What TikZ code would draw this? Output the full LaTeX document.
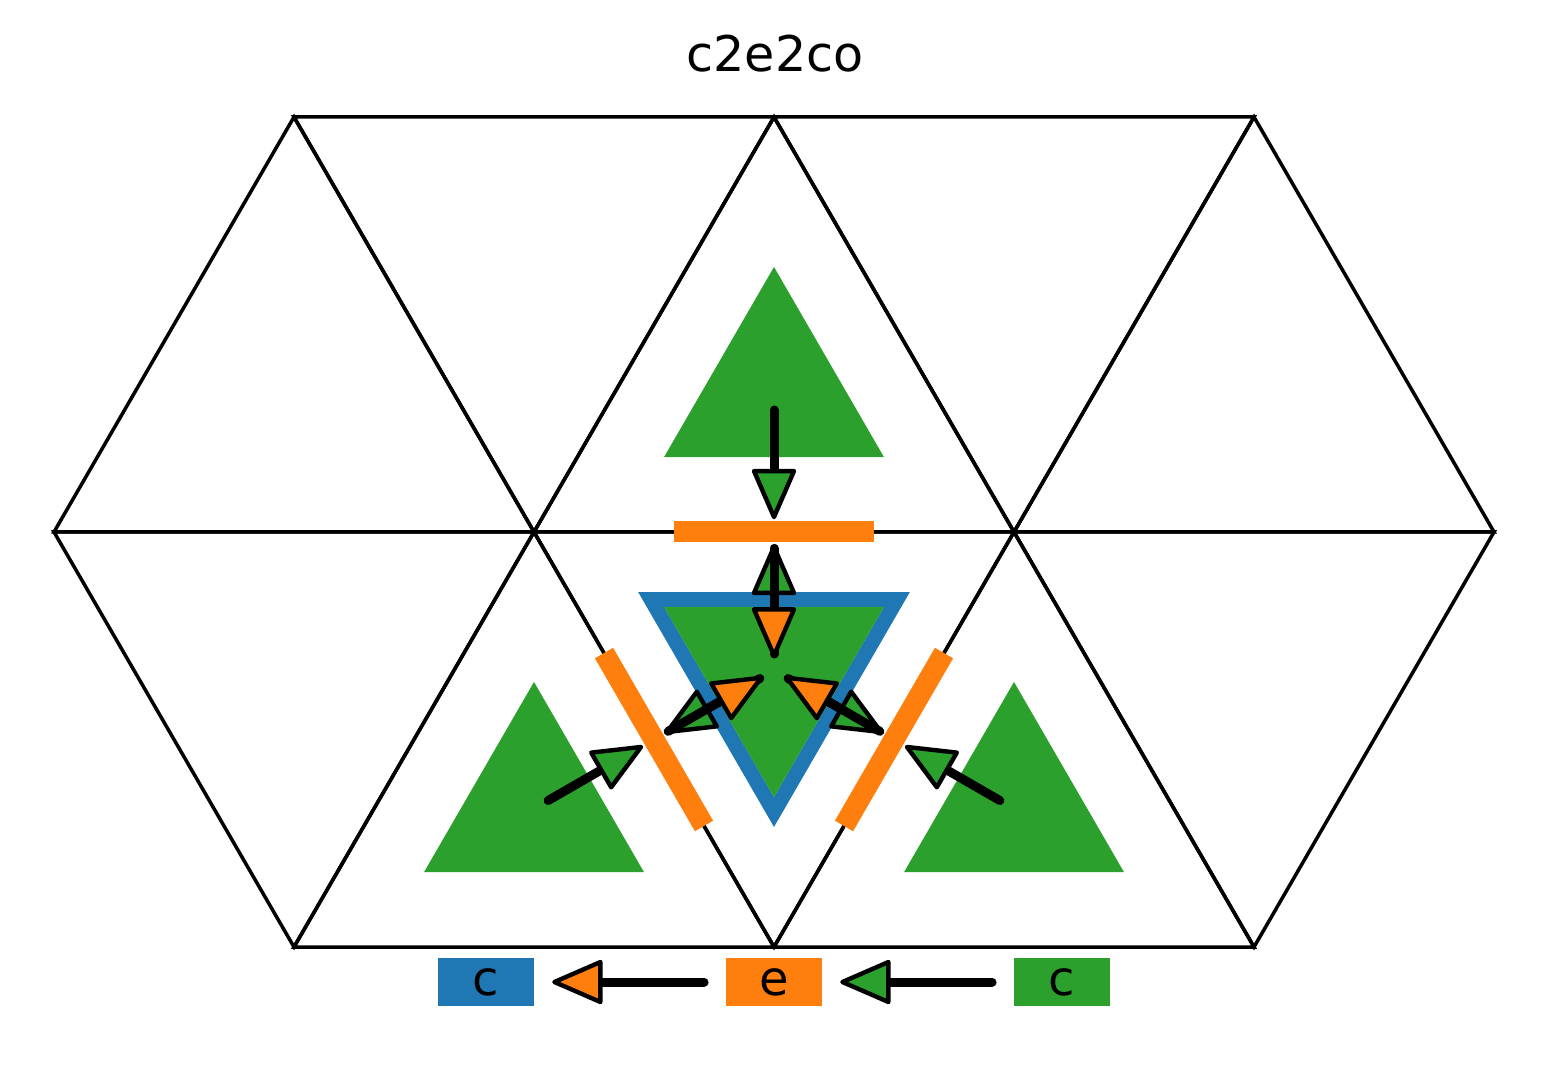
\documentclass[tikz,border=0pt]{standalone}
\usepackage{fontspec}
\setmainfont{DejaVu Sans}
\usetikzlibrary{calc}
\definecolor{tabblue}{HTML}{1F77B4}
\definecolor{taborange}{HTML}{FF7F0E}
\definecolor{tabgreen}{HTML}{2CA02C}
\newcommand\drawflow[3]{%
  \coordinate (tl) at ($(#1)!0.118!(#2)$);
  \coordinate (tp) at ($(#2)!0.108!(#1)$);
  \flowshape{tl}{tp}{#3}}
\newcommand\flowshape[3]{%
  \coordinate (hb) at ($(#2)!23pt!(#1)$);
  \draw[shaftline] (#1) -- (hb);
  \draw[headline, fill=#3] (#2) -- ($(hb)!10pt!90:(#2)$) -- ($(hb)!10pt!-90:(#2)$) -- cycle;}
\begin{document}
\begin{tikzpicture}[x={(0.5pt,0)}, y={(0,-0.5pt)},
  gridline/.style={line width=1.75pt, line join=miter, draw=black},
  celltri/.style={fill=tabgreen, draw=none},
  edgebar/.style={line width=10.5pt, draw=taborange, line cap=butt},
  shaftline/.style={line width=4.5pt, line cap=round, draw=black},
  headline/.style={line width=2.2pt, line join=round, draw=black},
  legbox/.style={minimum width=48pt, minimum height=24pt, inner sep=0pt, font=\fontsize{24pt}{29pt}\selectfont}]
\useasboundingbox (0,0) rectangle (1548,1074);
% grid vertices
\coordinate (v1) at (294,117); \coordinate (v2) at (774,117); \coordinate (v3) at (1254,117);
\coordinate (m0) at (54,532); \coordinate (m1) at (534,532); \coordinate (m2) at (1014,532); \coordinate (m3) at (1494,532);
\coordinate (b1) at (294,947); \coordinate (b2) at (774,947); \coordinate (b3) at (1254,947);
% triangles
\foreach \a/\b/\c in {m0/v1/m1, v1/m1/v2, m1/v2/m2, v2/m2/v3, m2/v3/m3,
                      m0/b1/m1, b1/m1/b2, m1/b2/m2, b2/m2/b3, m2/b3/m3}
  \draw[gridline] (\a) -- (\b) -- (\c) -- cycle;
% centroids
\coordinate (T) at (774,393.67);
\coordinate (C) at (774,670.33);
\coordinate (L) at (534,808.67);
\coordinate (R) at (1014,808.67);
% edge midpoints
\coordinate (E1) at ($(m1)!0.5!(m2)$);
\coordinate (E2) at ($(m1)!0.5!(b2)$);
\coordinate (E3) at ($(m2)!0.5!(b2)$);
% blue outline of centre cell
\draw[tabblue, line width=7.5pt, line join=miter] ($(C)!0.512!(m1)$) -- ($(C)!0.512!(m2)$) -- ($(C)!0.512!(b2)$) -- cycle;
% green cells
\fill[celltri] ($(T)!0.458!(v2)$) -- ($(T)!0.458!(m1)$) -- ($(T)!0.458!(m2)$) -- cycle;
\fill[celltri] ($(C)!0.458!(m1)$) -- ($(C)!0.458!(m2)$) -- ($(C)!0.458!(b2)$) -- cycle;
\fill[celltri] ($(L)!0.458!(m1)$) -- ($(L)!0.458!(b1)$) -- ($(L)!0.458!(b2)$) -- cycle;
\fill[celltri] ($(R)!0.458!(m2)$) -- ($(R)!0.458!(b2)$) -- ($(R)!0.458!(b3)$) -- cycle;
% orange edges
\draw[edgebar] ($(m1)!0.2917!(m2)$) -- ($(m1)!0.7083!(m2)$);
\draw[edgebar] ($(m1)!0.2917!(b2)$) -- ($(m1)!0.7083!(b2)$);
\draw[edgebar] ($(m2)!0.2917!(b2)$) -- ($(m2)!0.7083!(b2)$);
% arrows
\drawflow{T}{E1}{tabgreen}
\drawflow{C}{E1}{tabgreen}
\drawflow{E1}{C}{taborange}
\drawflow{L}{E2}{tabgreen}
\drawflow{C}{E2}{tabgreen}
\drawflow{E2}{C}{taborange}
\drawflow{R}{E3}{tabgreen}
\drawflow{C}{E3}{tabgreen}
\drawflow{E3}{C}{taborange}
% title
\node[font=\fontsize{24.6pt}{29pt}\selectfont] (title) at (775,54) {c2e2co};
% legend
\node[legbox, fill=tabblue] (lc1) at (486,982) {c};
\node[legbox, fill=taborange] (le) at (774,982) {e};
\node[legbox, fill=tabgreen] (lc2) at (1062,982) {c};
\coordinate (la1) at ($(le.west)+(-21.5,0)$);
\coordinate (la2) at ($(lc1.east)+(20,0)$);
\flowshape{la1}{la2}{taborange}
\coordinate (lb1) at ($(lc2.west)+(-21.5,0)$);
\coordinate (lb2) at ($(le.east)+(20,0)$);
\flowshape{lb1}{lb2}{tabgreen}
\end{tikzpicture}
\end{document}
